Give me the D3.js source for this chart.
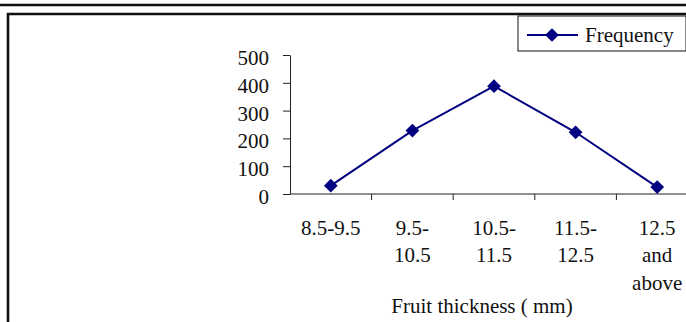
<!DOCTYPE html>
<html>
<head>
<meta charset="utf-8">
<script src="https://cdn.jsdelivr.net/npm/d3@7"></script>
<style>
  html, body { margin: 0; padding: 0; background: #fff; }
  svg { display: block; font-family: "Liberation Serif", "Times New Roman", serif; }
</style>
</head>
<body>
<svg id="chart" width="686" height="322"></svg>
<script>
// Fruit thickness classes and their frequencies
const categories = ["8.5-9.5", "9.5-10.5", "10.5-11.5", "11.5-12.5", "12.5 and above"];
const frequency = [30, 228, 388, 222, 25];
const yTicks = [0, 100, 200, 300, 400, 500];
const seriesName = "Frequency";
const xTitle = "Fruit thickness ( mm)";

const svg = d3.select("#chart");
const W = 686, H = 322;
const navy = "#000080";
const fontSize = 21;

// Page rule and outer frame
svg.append("line").attr("x1", 0).attr("x2", W).attr("y1", 5).attr("y2", 5)
  .attr("stroke", "#111").attr("stroke-width", 2.6);
svg.append("path").attr("d", `M8,${H + 2} L8,14 L${W + 2},14`)
  .attr("fill", "none").attr("stroke", "#111").attr("stroke-width", 2.6);

// Scales
const x = d3.scaleBand().domain(categories).range([290, 698]).padding(0);
const y = d3.scaleLinear().domain([0, 500]).range([194, 55]);

// Y axis
const yAxis = svg.append("g").attr("transform", "translate(290,0)")
  .call(d3.axisLeft(y).tickValues(yTicks).tickSize(7).tickPadding(14).tickSizeOuter(0));
yAxis.select(".domain").attr("stroke", "#222").attr("stroke-width", 1);
yAxis.selectAll(".tick line").attr("stroke", "#222");
yAxis.selectAll(".tick text").attr("font-size", fontSize).attr("fill", "#111")
  .attr("font-family", "Liberation Serif").attr("dy", "0.45em");

// X axis: line plus tick marks on category boundaries
svg.append("line").attr("x1", 290).attr("x2", W).attr("y1", y(0)).attr("y2", y(0))
  .attr("stroke", "#222").attr("stroke-width", 1.2);
svg.selectAll(".xtick").data(categories.slice(1)).join("line")
  .attr("class", "xtick")
  .attr("x1", d => x(d)).attr("x2", d => x(d))
  .attr("y1", y(0)).attr("y2", y(0) + 6)
  .attr("stroke", "#222").attr("stroke-width", 1);

// Category labels, wrapped to fit each band
const maxLabelWidth = 65;
const lineGap = 27.3;
categories.forEach(cat => {
  const tokens = cat.match(/[^\s-]+-?|\S+/g);
  const t = svg.append("text")
    .attr("x", x(cat) + x.bandwidth() / 2)
    .attr("y", 235)
    .attr("text-anchor", "middle")
    .attr("font-size", fontSize).attr("fill", "#111");
  let lines = [];
  let current = "";
  const probe = svg.append("text").attr("font-size", fontSize);
  tokens.forEach(tok => {
    const sep = current === "" || current.endsWith("-") ? "" : " ";
    const trial = current + sep + tok;
    probe.text(trial);
    if (current !== "" && probe.node().getComputedTextLength() > maxLabelWidth) {
      lines.push(current);
      current = tok;
    } else {
      current = trial;
    }
  });
  lines.push(current);
  probe.remove();
  lines.forEach((ln, i) => {
    t.append("tspan").attr("x", x(cat) + x.bandwidth() / 2)
      .attr("y", 235 + i * lineGap).text(ln);
  });
});

// Axis title
svg.append("text").attr("x", 482).attr("y", 313).attr("text-anchor", "middle")
  .attr("font-size", fontSize).attr("fill", "#111").text(xTitle);

// Series line with diamond markers
const cx = d => x(d) + x.bandwidth() / 2;
const line = d3.line().x((d, i) => cx(categories[i])).y(d => y(d));
svg.append("path").datum(frequency).attr("d", line)
  .attr("fill", "none").attr("stroke", navy).attr("stroke-width", 2);

const diamond = d3.symbol().type(d3.symbolDiamond2).size(120);
svg.selectAll(".pt").data(frequency).join("path")
  .attr("class", "pt")
  .attr("transform", (d, i) => `translate(${cx(categories[i])},${y(d)})`)
  .attr("d", diamond).attr("fill", navy);

// Legend
const lg = svg.append("g");
lg.append("rect").attr("x", 518).attr("y", 16).attr("width", 168).attr("height", 35)
  .attr("fill", "#fff").attr("stroke", "#111").attr("stroke-width", 1);
lg.append("line").attr("x1", 527).attr("x2", 578).attr("y1", 35).attr("y2", 35)
  .attr("stroke", navy).attr("stroke-width", 2);
lg.append("path").attr("transform", "translate(552,35)").attr("d", diamond).attr("fill", navy);
lg.append("text").attr("x", 585).attr("y", 42).attr("font-size", fontSize)
  .attr("fill", "#111").text(seriesName);
</script>
</body>
</html>
